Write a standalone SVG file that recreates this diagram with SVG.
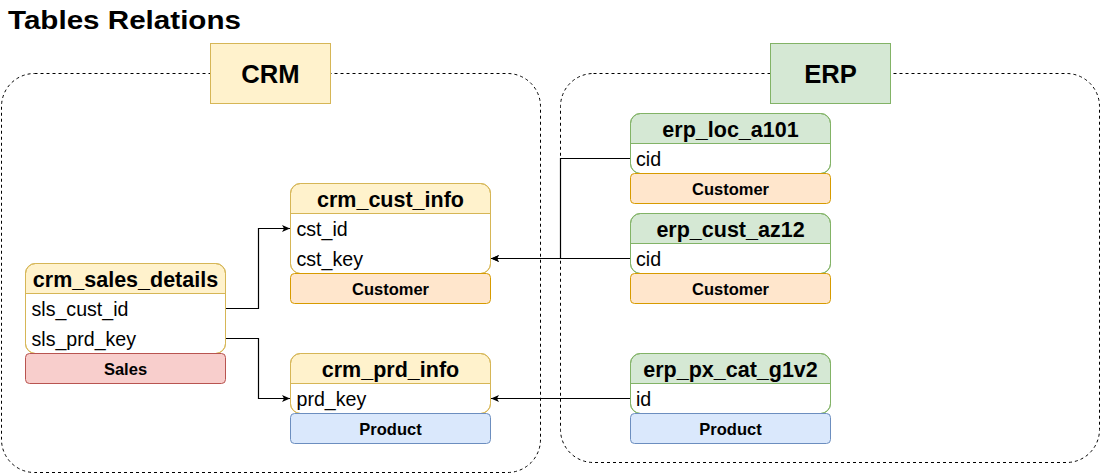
<svg xmlns="http://www.w3.org/2000/svg" width="1101" height="474" viewBox="0 0 1101 474">
<style>
text{font-family:"Liberation Sans",Arial,Helvetica,sans-serif;fill:#000}
.title{font-size:25px;font-weight:bold}
.grp{font-size:25.6px;font-weight:bold;text-anchor:middle}
.hdr{font-size:21.5px;font-weight:bold;text-anchor:middle}
.row{font-size:19.6px}
.lbl{font-size:16.5px;font-weight:bold;text-anchor:middle}
.cont{fill:none;stroke:#000;stroke-width:1;stroke-dasharray:3 3}
.crmh{fill:#fff2cc;stroke:#d6b656}
.erph{fill:#d5e8d4;stroke:#82b366}
.body{fill:#fff;stroke:none}
.cust{fill:#ffe6cc;stroke:#d79b00}
.sales{fill:#f8cecc;stroke:#b85450}
.prod{fill:#dae8fc;stroke:#6c8ebf}
.edge{fill:none;stroke:#000;stroke-width:1.2;marker-end:url(#arr)}
</style>
<defs>
<marker id="arr" markerWidth="9" markerHeight="8" refX="8" refY="4" orient="auto" markerUnits="userSpaceOnUse">
<path d="M0,0.5 L8,4 L0,7.5 L2,4 Z" fill="#000"/>
</marker>
</defs>
<rect width="1101" height="474" fill="#fff"/>
<text class="title" x="8" y="29" textLength="233" lengthAdjust="spacingAndGlyphs">Tables Relations</text>

<g id="crm-container">
<rect class="cont" x="1.5" y="73.5" width="539" height="399" rx="33"/>
<rect x="210.5" y="43.5" width="120" height="60" fill="#fff2cc" stroke="#d6b656"/>
<text class="grp" x="270.5" y="83">CRM</text>
</g>
<g id="erp-container">
<rect class="cont" x="560.5" y="73.5" width="539" height="389" rx="33"/>
<rect x="770.5" y="43.5" width="120" height="60" fill="#d5e8d4" stroke="#82b366"/>
<text class="grp" x="830.5" y="83">ERP</text>
</g>

<g id="connectors">
<path class="edge" d="M226 308.5 H258.5 V228.5 H290"/>
<path class="edge" d="M226 338.5 H258.5 V398.5 H290"/>
<path class="edge" d="M630 158.5 H560.5 V258.5 H491"/>
<path class="edge" d="M630 258.5 H491"/>
<path class="edge" d="M630 398.5 H491"/>
</g>

<g id="crm_sales_details">
<rect class="crmh" x="25.5" y="263.5" width="200" height="90" rx="10"/>
<path class="body" d="M26 294 H225 V343.5 A10 10 0 0 1 215.5 353 H35.5 A10 10 0 0 1 26 343.5 Z"/>
<line x1="25.5" y1="293.5" x2="225.5" y2="293.5" stroke="#d6b656"/>
<rect x="25.5" y="263.5" width="200" height="90" rx="10" fill="none" stroke="#d6b656"/>
<text class="hdr" x="125.5" y="286.5">crm_sales_details</text>
<text class="row" x="31.5" y="315.5">sls_cust_id</text>
<text class="row" x="31.5" y="345.5">sls_prd_key</text>
<rect class="sales" x="25.5" y="353.5" width="200" height="30" rx="4"/>
<text class="lbl" x="125.5" y="375">Sales</text>
</g>

<g id="crm_cust_info">
<rect class="crmh" x="290.5" y="183.5" width="200" height="90" rx="10"/>
<path class="body" d="M291 214 H490 V263.5 A10 10 0 0 1 480.5 273 H300.5 A10 10 0 0 1 291 263.5 Z"/>
<line x1="290.5" y1="213.5" x2="490.5" y2="213.5" stroke="#d6b656"/>
<rect x="290.5" y="183.5" width="200" height="90" rx="10" fill="none" stroke="#d6b656"/>
<text class="hdr" x="390.5" y="206.5">crm_cust_info</text>
<text class="row" x="296.5" y="235.5">cst_id</text>
<text class="row" x="296.5" y="265.5">cst_key</text>
<rect class="cust" x="290.5" y="273.5" width="200" height="30" rx="4"/>
<text class="lbl" x="390.5" y="295">Customer</text>
</g>

<g id="crm_prd_info">
<rect class="crmh" x="290.5" y="353.5" width="200" height="60" rx="10"/>
<path class="body" d="M291 384 H490 V403.5 A10 10 0 0 1 480.5 413 H300.5 A10 10 0 0 1 291 403.5 Z"/>
<line x1="290.5" y1="383.5" x2="490.5" y2="383.5" stroke="#d6b656"/>
<rect x="290.5" y="353.5" width="200" height="60" rx="10" fill="none" stroke="#d6b656"/>
<text class="hdr" x="390.5" y="376.5">crm_prd_info</text>
<text class="row" x="296.5" y="405.5">prd_key</text>
<rect class="prod" x="290.5" y="413.5" width="200" height="30" rx="4"/>
<text class="lbl" x="390.5" y="435">Product</text>
</g>

<g id="erp_loc_a101">
<rect class="erph" x="630.5" y="113.5" width="200" height="60" rx="10"/>
<path class="body" d="M631 144 H830 V163.5 A10 10 0 0 1 820.5 173 H640.5 A10 10 0 0 1 631 163.5 Z"/>
<line x1="630.5" y1="143.5" x2="830.5" y2="143.5" stroke="#82b366"/>
<rect x="630.5" y="113.5" width="200" height="60" rx="10" fill="none" stroke="#82b366"/>
<text class="hdr" x="730.5" y="136.5">erp_loc_a101</text>
<text class="row" x="636" y="165.5">cid</text>
<rect class="cust" x="630.5" y="173.5" width="200" height="30" rx="4"/>
<text class="lbl" x="730.5" y="195">Customer</text>
</g>

<g id="erp_cust_az12">
<rect class="erph" x="630.5" y="213.5" width="200" height="60" rx="10"/>
<path class="body" d="M631 244 H830 V263.5 A10 10 0 0 1 820.5 273 H640.5 A10 10 0 0 1 631 263.5 Z"/>
<line x1="630.5" y1="243.5" x2="830.5" y2="243.5" stroke="#82b366"/>
<rect x="630.5" y="213.5" width="200" height="60" rx="10" fill="none" stroke="#82b366"/>
<text class="hdr" x="730.5" y="236.5">erp_cust_az12</text>
<text class="row" x="636" y="265.5">cid</text>
<rect class="cust" x="630.5" y="273.5" width="200" height="30" rx="4"/>
<text class="lbl" x="730.5" y="295">Customer</text>
</g>

<g id="erp_px_cat_g1v2">
<rect class="erph" x="630.5" y="353.5" width="200" height="60" rx="10"/>
<path class="body" d="M631 384 H830 V403.5 A10 10 0 0 1 820.5 413 H640.5 A10 10 0 0 1 631 403.5 Z"/>
<line x1="630.5" y1="383.5" x2="830.5" y2="383.5" stroke="#82b366"/>
<rect x="630.5" y="353.5" width="200" height="60" rx="10" fill="none" stroke="#82b366"/>
<text class="hdr" x="730.5" y="376.5">erp_px_cat_g1v2</text>
<text class="row" x="636" y="405.5">id</text>
<rect class="prod" x="630.5" y="413.5" width="200" height="30" rx="4"/>
<text class="lbl" x="730.5" y="435">Product</text>
</g>
</svg>
